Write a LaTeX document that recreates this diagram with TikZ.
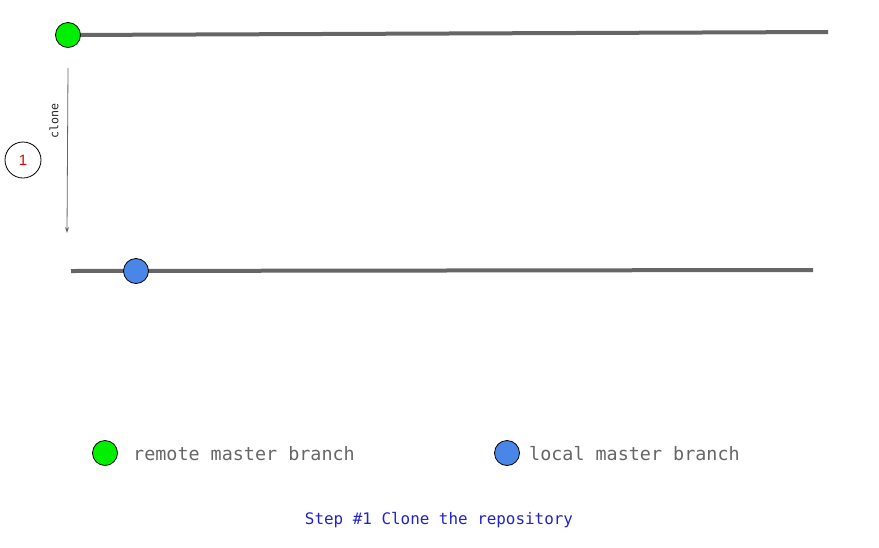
\documentclass[tikz,border=0pt]{standalone}
\usepackage{fontspec}
\setmainfont{Liberation Sans}
\newfontfamily\monofont{DejaVu Sans Mono}
\usetikzlibrary{arrows.meta}
\definecolor{linegray}{HTML}{666666}
\definecolor{txtgray}{HTML}{666666}
\definecolor{gitgreen}{HTML}{00EE00}
\definecolor{gitblue}{HTML}{4A86E8}
\definecolor{stepblue}{HTML}{2222CC}
\definecolor{numred}{HTML}{E00000}
\begin{document}
\begin{tikzpicture}[x=1pt,y=-1pt,
  branch/.style={draw=linegray,line width=4pt},
  commit/.style={circle,draw=black,line width=0.8pt,minimum size=25pt,inner sep=0pt},
  legend/.style={font=\monofont\fontsize{18.4}{20}\selectfont,text=txtgray,anchor=west,inner sep=0pt},
]
\useasboundingbox (0,0) rectangle (879,547);
% branches
\coordinate (r0) at (68,35);
\coordinate (r1) at (828,32);
\coordinate (l0) at (71,271);
\coordinate (l1) at (813,270);
\draw[branch] (r0) -- (r1);
\draw[branch] (l0) -- (l1);
\node[commit,fill=gitgreen] (rc) at (68,35) {};
\node[commit,fill=gitblue] (lc) at (136,271) {};
% clone arrow
\coordinate (a0) at (68,68);
\coordinate (a1) at (67,233);
\draw[draw=linegray,line width=0.8pt,-{Stealth[length=6pt,width=4pt]}] (a0) -- (a1);
\node[rotate=90,font=\monofont\fontsize{11.6}{12}\selectfont,text=black!85] (clonelbl) at (54,121) {clone};
\node[circle,draw=black,line width=0.8pt,minimum size=36pt,inner sep=0pt,text=numred,font=\fontsize{15}{16}\selectfont] (one) at (23,160) {1};
% legend
\node[commit,fill=gitgreen] (lg1) at (105,453) {};
\node[legend] (lt1) at (133,454) {remote master branch};
\node[commit,fill=gitblue] (lg2) at (507,453) {};
\node[legend] (lt2) at (529,454) {local master branch};
% caption
\node[font=\monofont\fontsize{15.9}{17}\selectfont,text=stepblue] (step) at (439,520) {Step \#1 Clone the repository};
\end{tikzpicture}
\end{document}
